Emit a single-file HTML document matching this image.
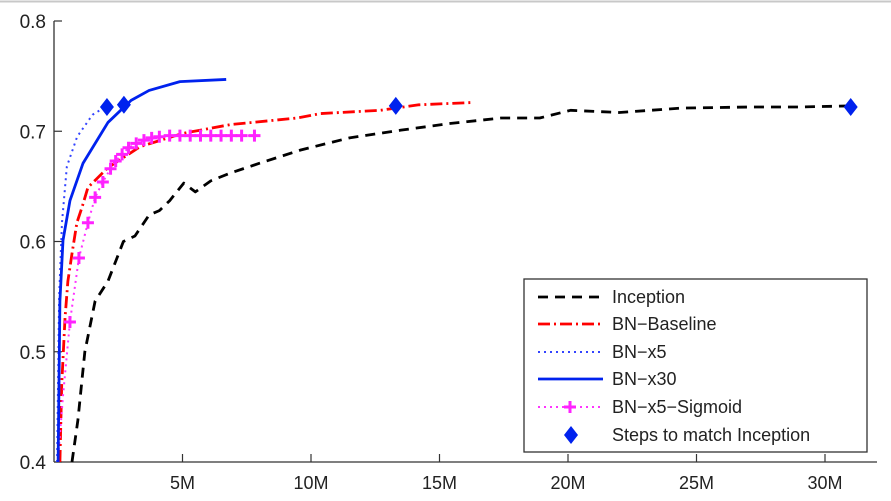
<!DOCTYPE html>
<html><head><meta charset="utf-8"><style>
html,body{margin:0;padding:0;background:#fff;}
svg{display:block;font-family:"Liberation Sans",Arial,sans-serif;}
</style></head><body>
<svg id="chart" width="891" height="501">
<line x1="0" y1="1.5" x2="891" y2="1.5" stroke="#c8c8c8" stroke-width="2"/>
<g id="axes"></g>
<g id="plot"></g>
<g id="legend"></g>
</svg>
<script>
const xTicks=[5,10,15,20,25,30];
const xTickLabels=["5M","10M","15M","20M","25M","30M"];
const yTicks=[0.4,0.5,0.6,0.7,0.8];
const yTickLabels=["0.4","0.5","0.6","0.7","0.8"];
const inceptionX=[0.7,0.93,1.2,1.6,2.1,2.4,2.7,3.15,3.7,4.1,4.5,5.05,5.5,6.1,6.85,8,9.6,11.5,13.5,15.4,17.4,18.9,20.1,22,24.4,27.1,29,31];
const inceptionY=[0.4,0.438,0.5,0.546,0.564,0.582,0.6,0.605,0.624,0.628,0.637,0.653,0.645,0.655,0.662,0.671,0.683,0.694,0.701,0.707,0.712,0.712,0.719,0.717,0.721,0.722,0.722,0.723];
const baselineX=[0.23,0.3,0.43,0.54,0.7,0.89,1.09,1.32,2.1,3.35,5.0,6.85,9.45,10.35,12.7,14.2,16.2];
const baselineY=[0.4,0.47,0.531,0.564,0.589,0.617,0.631,0.649,0.667,0.686,0.698,0.706,0.712,0.716,0.719,0.724,0.726];
const x5X=[0.12,0.2,0.31,0.5,0.9,1.5,2.0];
const x5Y=[0.4,0.55,0.617,0.668,0.695,0.715,0.722];
const x30X=[0.16,0.23,0.35,0.62,1.13,2.1,3.0,3.7,4.9,6.7];
const x30Y=[0.4,0.546,0.601,0.637,0.671,0.708,0.728,0.737,0.745,0.747];
const sigX=[0.15,0.35,0.62,0.97,1.32,1.6,1.9,2.2,2.4,2.65,2.9,3.2,3.5,3.8,4.1,4.5,4.9,5.3,5.7,6.1,6.5,6.9,7.3,7.8];
const sigY=[0.4,0.46,0.527,0.585,0.617,0.64,0.654,0.666,0.673,0.679,0.685,0.689,0.692,0.694,0.695,0.696,0.696,0.696,0.696,0.696,0.696,0.696,0.696,0.696];
const stepsX=[2.06,2.72,13.3,31];
const stepsY=[0.722,0.724,0.723,0.722];

const NS="http://www.w3.org/2000/svg";
const sx=v=>54+v*25.7;
const sy=v=>462-(v-0.4)*1102.5;
function mk(tag,parent,attrs){const e=document.createElementNS(NS,tag);for(const k in attrs)e.setAttribute(k,attrs[k]);parent.appendChild(e);return e;}
const axes=document.getElementById('axes'),plot=document.getElementById('plot'),leg=document.getElementById('legend');
let a=mk('line',axes,{x1:54,y1:21,x2:54,y2:462,stroke:'#333','stroke-width':1.3});


a=mk('line',axes,{x1:54,y1:462,x2:877,y2:462,stroke:'#333','stroke-width':1.3});


yTicks.forEach((t,i)=>{
  const y=sy(t);
  const l=mk('line',axes,{x1:54,y1:y,x2:62,y2:y,stroke:'#333','stroke-width':1.2});
  
  
  const tx=mk('text',axes,{x:46,y:y+7,'text-anchor':'end','font-size':19,fill:'#222'});
  tx.textContent=yTickLabels[i];
  
  
});
xTicks.forEach((t,i)=>{
  const x=sx(t);
  const l=mk('line',axes,{x1:x,y1:462,x2:x,y2:454,stroke:'#333','stroke-width':1.2});
  
  
  const tx=mk('text',axes,{x:x,y:489,'text-anchor':'middle','font-size':18,fill:'#222'});
  tx.textContent=xTickLabels[i];
  
  
});
function pts(X,Y){return X.map((v,i)=>sx(v)+','+sy(Y[i])).join(' ');}
const styles={
 inception:{stroke:'#000',dash:'10,7',w:2.8},
 baseline:{stroke:'#f00',dash:'12,4,2,4',w:2.8},
 x5:{stroke:'#3344ff',dash:'2,4',w:2},
 x30:{stroke:'#0022ee',dash:'',w:2.8},
 sig:{stroke:'#ff33ff',dash:'2,4',w:2}
};
function line(X,Y,s,name){
  const p=mk('polyline',plot,{points:pts(X,Y),fill:'none',stroke:s.stroke,'stroke-width':s.w,'stroke-dasharray':s.dash,'stroke-linejoin':'round'});
  
  
}
line(inceptionX,inceptionY,styles.inception,'inception-line');
line(baselineX,baselineY,styles.baseline,'bn-baseline-line');
line(sigX,sigY,styles.sig,'bn-x5-sigmoid-line');
line(x5X,x5Y,styles.x5,'bn-x5-line');
line(x30X,x30Y,styles.x30,'bn-x30-line');
function plus(g,x,y){const p=mk('path',g,{d:`M${x-6},${y}H${x+6}M${x},${y-6}V${y+6}`,stroke:'#ff22ff','stroke-width':3});return p;}
function diamond(g,x,y){return mk('path',g,{d:`M${x},${y-9}L${x+7},${y}L${x},${y+9}L${x-7},${y}Z`,fill:'#0022ee'});}
sigX.forEach((v,i)=>{if(i<2)return;
  const p=plus(plot,sx(v),sy(sigY[i]));
  
  
});
stepsX.forEach((v,i)=>{
  const d=diamond(plot,sx(v),sy(stepsY[i]));
  
  
});
const box=mk('rect',leg,{x:524,y:279,width:343,height:173,fill:'#fff',stroke:'#333','stroke-width':1.3});


const entries=[["Inception",styles.inception],["BN\u2212Baseline",styles.baseline],["BN\u2212x5",styles.x5],["BN\u2212x30",styles.x30],["BN\u2212x5\u2212Sigmoid",styles.sig],["Steps to match Inception",null]];
const rowY=[297,324,352,379,407,435];
entries.forEach((e,i)=>{
  const y=rowY[i];
  const g=mk('g',leg,{});
  
  
  if(e[1]){mk('line',g,{x1:538,y1:y,x2:603,y2:y,stroke:e[1].stroke,'stroke-width':e[1].w,'stroke-dasharray':e[1].dash});}
  if(i===4)plus(g,570,y);
  if(i===5)diamond(g,571,y);
  const t=mk('text',g,{x:612,y:y+6,'font-size':18,fill:'#222'});
  t.textContent=e[0];
});
</script>
</body></html>
